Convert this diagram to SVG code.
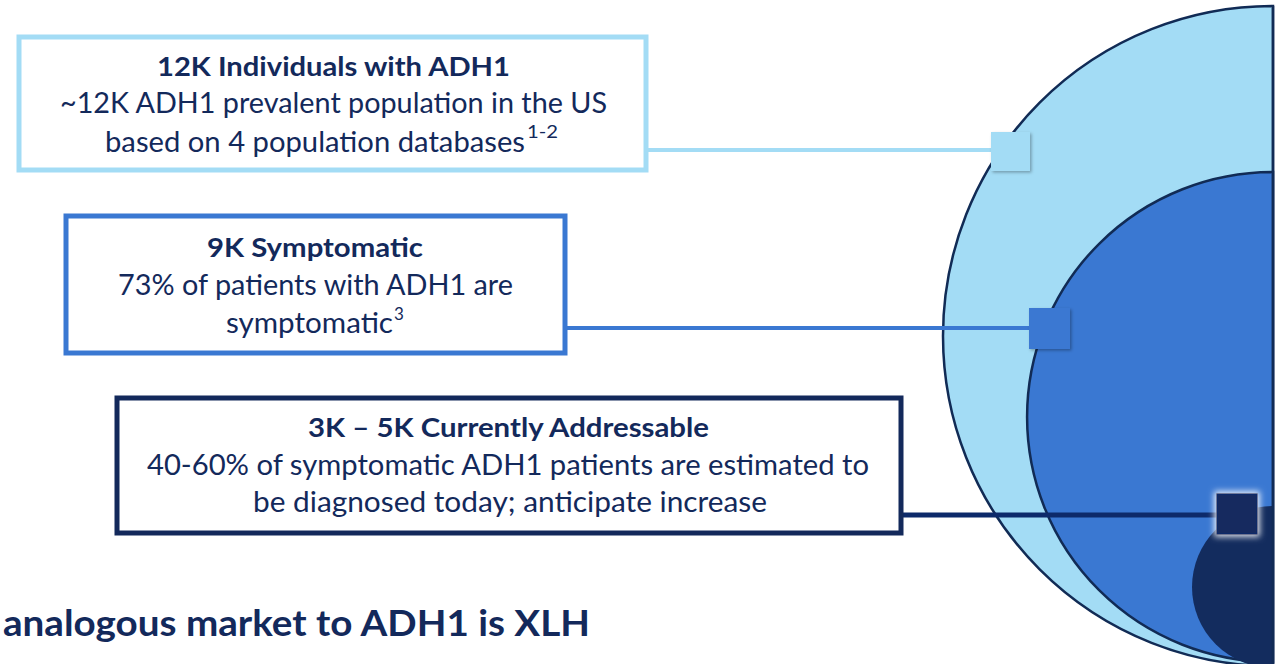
<svg xmlns="http://www.w3.org/2000/svg" width="1281" height="664" viewBox="0 0 1281 664">
<style>
  .t { font-family: Lato, "Open Sans", "Liberation Sans", sans-serif; fill: #13295B; text-anchor: start; }
  .title { font-weight: bold; font-size: 27px; }
  .body { font-size: 28px; }
  .sup { font-size: 17px; }
  .box { fill: #FFFFFF; stroke-width: 5; }
  .outline { stroke: #112B55; stroke-width: 2.5; }
</style>
<defs>
  <filter id="shadow" x="-40%" y="-40%" width="180%" height="180%">
    <feDropShadow dx="1.5" dy="1.5" stdDeviation="1.5" flood-color="#000000" flood-opacity="0.3"/>
  </filter>
  <filter id="glow" x="-50%" y="-50%" width="200%" height="200%">
    <feMorphology in="SourceAlpha" operator="dilate" radius="2" result="d"/>
    <feGaussianBlur in="d" stdDeviation="3" result="b"/>
    <feFlood flood-color="#FFFFFF" flood-opacity="0.9"/>
    <feComposite in2="b" operator="in" result="g"/>
    <feMerge><feMergeNode in="g"/><feMergeNode in="SourceGraphic"/></feMerge>
  </filter>
</defs>
<rect width="1281" height="664" fill="#FFFFFF"/>

<g id="circles">
  <path d="M1273,6 A330,330 0 0 0 1273,666 Z" fill="#A3DCF5" class="outline"/>
  <path d="M1273,172 A246,245 0 0 0 1273,662 Z" fill="#3A78D2" class="outline"/>
  <path d="M1273,506 A81,81 0 0 0 1273,668 Z" fill="#132C5E"/>
  <line x1="1273" y1="6" x2="1273" y2="664" stroke="#112B55" stroke-width="2.5"/>
</g>

<g id="connectors">
  <line x1="647" y1="150" x2="992" y2="150" stroke="#A3DCF5" stroke-width="4"/>
  <line x1="566" y1="328" x2="1030" y2="328" stroke="#3A78D2" stroke-width="4"/>
  <line x1="902" y1="515" x2="1218" y2="515" stroke="#0D2A6A" stroke-width="5"/>
</g>

<g id="marker-1">
  <rect x="991" y="132" width="39" height="39" fill="#A3DCF5" filter="url(#shadow)"/>
</g>
<g id="marker-2">
  <rect x="1029" y="308" width="41" height="41" fill="#3A78D2" filter="url(#shadow)"/>
</g>
<g id="marker-3">
  <rect x="1217" y="494" width="40" height="40" fill="#132C5E" stroke="#0B2A6E" stroke-width="1.5" filter="url(#glow)"/>
</g>

<g id="node-individuals">
  <rect x="19" y="37" width="627" height="133" class="box" stroke="#A3DCF5"/>
  <text class="t title" x="157" y="76" textLength="353" lengthAdjust="spacingAndGlyphs">12K Individuals with ADH1</text>
  <text class="t body" x="60" y="113" textLength="547" lengthAdjust="spacingAndGlyphs">~12K ADH1 prevalent population in the US</text>
  <text class="t body" x="105" y="152" textLength="420" lengthAdjust="spacingAndGlyphs">based on 4 population databases</text>
  <text class="t sup" x="527" y="138" textLength="31" lengthAdjust="spacingAndGlyphs">1-2</text>
</g>

<g id="node-symptomatic">
  <rect x="66" y="216" width="499" height="137" class="box" stroke="#3A78D2"/>
  <text class="t title" x="207" y="257" textLength="216" lengthAdjust="spacingAndGlyphs">9K Symptomatic</text>
  <text class="t body" x="118" y="295" textLength="395" lengthAdjust="spacingAndGlyphs">73% of patients with ADH1 are</text>
  <text class="t body" x="226" y="333" textLength="167" lengthAdjust="spacingAndGlyphs">symptomatic</text>
  <text class="t sup" x="394" y="320">3</text>
</g>

<g id="node-addressable">
  <rect x="117" y="398" width="784" height="135" class="box" stroke="#13295B"/>
  <text class="t title" x="308" y="437" textLength="401" lengthAdjust="spacingAndGlyphs">3K – 5K Currently Addressable</text>
  <text class="t body" x="147" y="475" textLength="722" lengthAdjust="spacingAndGlyphs">40-60% of symptomatic ADH1 patients are estimated to</text>
  <text class="t body" x="253" y="512" textLength="514" lengthAdjust="spacingAndGlyphs">be diagnosed today; anticipate increase</text>
</g>

<g id="heading">
  <text class="t" x="3" y="636" font-size="36" font-weight="bold" textLength="587" lengthAdjust="spacingAndGlyphs">analogous market to ADH1 is XLH</text>
</g>
</svg>
